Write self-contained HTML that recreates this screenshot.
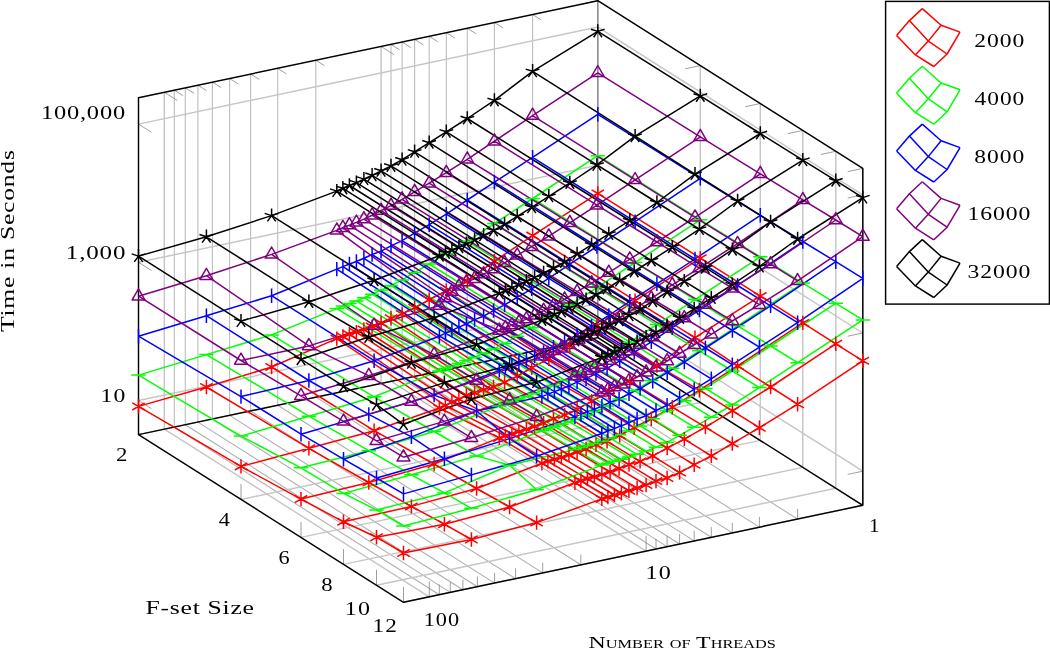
<!DOCTYPE html>
<html><head><meta charset="utf-8"><title>plot</title>
<style>html,body{margin:0;padding:0;background:#fff}svg{display:block}</style></head>
<body>
<svg width="1050" height="649" viewBox="0 0 1050 649">
<rect width="1050" height="649" fill="#fff"/>
<path d="M532.6,351.4 L797.6,519.1 M494.4,359.4 L759.4,527.1 M467.3,365.2 L732.3,532.9 M446.3,369.6 L711.3,537.3 M429.2,373.2 L694.2,540.9 M414.6,376.3 L679.6,544 M402.1,378.9 L667.1,546.6 M391,381.3 L656,549 M315.8,397.1 L580.8,564.8 M277.7,405.2 L542.7,572.9 M250.6,410.9 L515.6,578.6 M229.6,415.4 L494.6,583.1 M212.4,419 L477.4,586.7 M197.9,422.1 L462.9,589.8 M185.3,424.7 L450.3,592.4 M174.3,427 L439.3,594.7" fill="none" stroke="#adadad" stroke-width="1.05"/>
<path d="M532.6,351.4 L532.6,14.5 M494.4,359.4 L494.4,22.5 M467.3,365.2 L467.3,28.3 M446.3,369.6 L446.3,32.7 M429.2,373.2 L429.2,36.3 M414.6,376.3 L414.6,39.4 M402.1,378.9 L402.1,42 M391,381.3 L391,44.4 M315.8,397.1 L315.8,60.2 M277.7,405.2 L277.7,68.3 M250.6,410.9 L250.6,74 M229.6,415.4 L229.6,78.5 M212.4,419 L212.4,82.1 M197.9,422.1 L197.9,85.2 M185.3,424.7 L185.3,87.8 M174.3,427 L174.3,90.1" fill="none" stroke="#c0c0c0" stroke-width="1.15"/>
<path d="M597.8,337.6 L862.8,505.3 M597.8,337.6 L597.8,0.7 M381.1,383.4 L646.1,551.1 M381.1,383.4 L381.1,46.5 M164.3,429.1 L429.3,596.8 M164.3,429.1 L164.3,92.2 M597.8,337.6 L138.5,434.6 M597.8,337.6 L597.8,0.7 M700.3,402.5 L241,499.5 M700.3,402.5 L700.3,65.6 M760.3,440.4 L301,537.4 M760.3,440.4 L760.3,103.5 M802.8,467.4 L343.5,564.4 M802.8,467.4 L802.8,130.5 M835.8,488.2 L376.5,585.2 M835.8,488.2 L835.8,151.3 M862.8,505.3 L403.5,602.3 M862.8,505.3 L862.8,168.4 M138.5,400.5 L597.8,303.5 L862.8,471.2 M138.5,262.3 L597.8,165.3 L862.8,333 M138.5,124.1 L597.8,27.1 L862.8,194.8" fill="none" stroke="#c6c6c6" stroke-width="1.45"/>
<path d="M862.8,505.3 L862.8,489.9 M597.8,0.7 L610.8,8.9 M646.1,551.1 L646.1,535.7 M381.1,46.5 L394.1,54.7 M429.3,596.8 L429.3,581.4 M164.3,92.2 L177.4,100.5 M797.6,519.1 L797.6,508.9 M532.6,14.5 L541.2,19.9 M759.4,527.1 L759.4,516.9 M494.4,22.5 L503,28 M732.3,532.9 L732.3,522.7 M467.3,28.3 L475.9,33.7 M711.3,537.3 L711.3,527.1 M446.3,32.7 L454.9,38.1 M694.2,540.9 L694.2,530.7 M429.2,36.3 L437.8,41.8 M679.6,544 L679.6,533.8 M414.6,39.4 L423.3,44.8 M667.1,546.6 L667.1,536.4 M402.1,42 L410.7,47.5 M656,549 L656,538.8 M391,44.4 L399.6,49.8 M580.8,564.8 L580.8,554.6 M315.8,60.2 L324.5,65.7 M542.7,572.9 L542.7,562.7 M277.7,68.3 L286.3,73.8 M515.6,578.6 L515.6,568.4 M250.6,74 L259.2,79.5 M494.6,583.1 L494.6,572.9 M229.6,78.5 L238.2,83.9 M477.4,586.7 L477.4,576.5 M212.4,82.1 L221,87.5 M462.9,589.8 L462.9,579.6 M197.9,85.2 L206.5,90.6 M450.3,592.4 L450.3,582.2 M185.3,87.8 L194,93.3 M439.3,594.7 L439.3,584.5 M174.3,90.1 L182.9,95.6 M138.5,434.6 L138.5,419.2 M597.8,0.7 L582.7,3.9 M241,499.5 L241,484.1 M700.3,65.6 L685.2,68.8 M301,537.4 L301,522 M760.3,103.5 L745.2,106.7 M343.5,564.4 L343.5,549 M802.8,130.5 L787.8,133.6 M376.5,585.2 L376.5,569.8 M835.8,151.3 L820.8,154.5 M403.5,602.3 L403.5,586.9 M862.8,168.4 L847.7,171.6 M138.5,400.5 L151.5,408.7 M862.8,471.2 L847.7,474.4 M138.5,262.3 L151.5,270.5 M862.8,333 L847.7,336.2 M138.5,124.1 L151.5,132.3 M862.8,194.8 L847.7,198" fill="none" stroke="#7f7f7f" stroke-width="0.75"/>
<path d="M597.8,337.6 L597.8,0.7" fill="none" stroke="#8a8a8a" stroke-width="1.4"/>
<path d="M138.5,434.6 L138.5,97.7 L597.8,0.7 L862.8,168.4 L862.8,505.3 L403.5,602.3 L138.5,434.6 L597.8,337.6 L862.8,505.3" fill="none" stroke="#000" stroke-width="1.45" stroke-linejoin="round"/>
<path d="M597.8,193.4 L532.6,235.6 L494.4,261.2 L467.3,280.8 L446.3,290.7 L429.2,299.8 L414.6,307.8 L402.1,314 L391,318.2 L381.1,323.1 L372.1,326.6 L363.9,329.5 L356.4,332.2 L349.4,334.3 L342.9,336.5 L336.8,338.6 L271.6,367 L206.4,387 L138.5,406.4 M700.3,258.2 L635.1,300.7 L596.9,325.8 L569.8,345.5 L548.8,358.7 L531.7,367.8 L517.2,376.2 L504.6,382.3 L493.5,386.9 L483.6,389.8 L474.6,392.8 L466.4,395.3 L458.9,399.2 L451.9,402.1 L445.4,405.5 L439.4,408 L374.1,430.7 L308.9,448.3 L241,466.4 M760.3,296.1 L695,337.6 L656.9,365.5 L629.8,381.2 L608.8,392.3 L591.6,401.3 L577.1,409.2 L564.6,415.1 L553.5,418.7 L543.6,423.1 L534.6,426.5 L526.4,429.2 L518.9,431.8 L511.9,433.8 L505.4,435.9 L499.3,437.9 L434.1,464 L368.8,482.5 L301,499.1 M802.8,322.9 L737.6,365.9 L699.4,390.2 L672.3,407.2 L651.3,418.7 L634.2,427.7 L619.7,435.6 L607.1,441.3 L596,444.7 L586.1,448.9 L577.1,452.1 L568.9,454.9 L561.4,457.4 L554.4,459.3 L547.9,461.3 L541.9,463.3 L476.6,488.5 L411.4,506.4 L343.5,521.8 M835.8,343.8 L770.6,387 L732.4,410.8 L705.4,427.1 L684.3,439.1 L667.2,448.1 L652.7,455.9 L640.1,461.4 L629,464.6 L619.1,468.6 L610.1,471.8 L601.9,474.4 L594.4,476.9 L587.4,478.8 L580.9,480.8 L574.9,482.7 L509.6,507 L444.4,524.2 L376.5,537.2 M862.8,360.8 L797.6,404.2 L759.4,427.7 L732.3,443.6 L711.3,455.9 L694.2,464.8 L679.6,472.6 L667.1,478 L656,481.1 L646.1,485 L637.1,488.1 L628.9,490.7 L621.4,493.2 L614.4,495 L607.9,497 L601.8,498.9 L536.6,522.6 L471.4,539.5 L403.5,553 M597.8,193.4 L700.3,258.2 L760.3,296.1 L802.8,322.9 L835.8,343.8 L862.8,360.8 M532.6,235.6 L635.1,300.7 L695,337.6 L737.6,365.9 L770.6,387 L797.6,404.2 M494.4,261.2 L596.9,325.8 L656.9,365.5 L699.4,390.2 L732.4,410.8 L759.4,427.7 M467.3,280.8 L569.8,345.5 L629.8,381.2 L672.3,407.2 L705.4,427.1 L732.3,443.6 M446.3,290.7 L548.8,358.7 L608.8,392.3 L651.3,418.7 L684.3,439.1 L711.3,455.9 M429.2,299.8 L531.7,367.8 L591.6,401.3 L634.2,427.7 L667.2,448.1 L694.2,464.8 M414.6,307.8 L517.2,376.2 L577.1,409.2 L619.7,435.6 L652.7,455.9 L679.6,472.6 M402.1,314 L504.6,382.3 L564.6,415.1 L607.1,441.3 L640.1,461.4 L667.1,478 M391,318.2 L493.5,386.9 L553.5,418.7 L596,444.7 L629,464.6 L656,481.1 M381.1,323.1 L483.6,389.8 L543.6,423.1 L586.1,448.9 L619.1,468.6 L646.1,485 M372.1,326.6 L474.6,392.8 L534.6,426.5 L577.1,452.1 L610.1,471.8 L637.1,488.1 M363.9,329.5 L466.4,395.3 L526.4,429.2 L568.9,454.9 L601.9,474.4 L628.9,490.7 M356.4,332.2 L458.9,399.2 L518.9,431.8 L561.4,457.4 L594.4,476.9 L621.4,493.2 M349.4,334.3 L451.9,402.1 L511.9,433.8 L554.4,459.3 L587.4,478.8 L614.4,495 M342.9,336.5 L445.4,405.5 L505.4,435.9 L547.9,461.3 L580.9,480.8 L607.9,497 M336.8,338.6 L439.4,408 L499.3,437.9 L541.9,463.3 L574.9,482.7 L601.8,498.9 M271.6,367 L374.1,430.7 L434.1,464 L476.6,488.5 L509.6,507 L536.6,522.6 M206.4,387 L308.9,448.3 L368.8,482.5 L411.4,506.4 L444.4,524.2 L471.4,539.5 M138.5,406.4 L241,466.4 L301,499.1 L343.5,521.8 L376.5,537.2 L403.5,553" fill="none" stroke="#ff0000" stroke-width="1.5" stroke-linejoin="round"/>
<path d="M597.8,155.7 L532.6,198.5 L494.4,223.5 L467.3,241.3 L446.3,253.7 L429.2,264 L414.6,272.4 L402.1,279.9 L391,285.6 L381.1,290.1 L372.1,294.2 L363.9,297.7 L356.4,300.9 L349.4,303.5 L342.9,306.1 L336.8,308.6 L271.6,334.9 L206.4,354.6 L138.5,375.1 M700.3,219.8 L635.1,262.5 L596.9,287.6 L569.8,305.2 L548.8,317.6 L531.7,327.8 L517.2,336.2 L504.6,343.6 L493.5,349.1 L483.6,353.4 L474.6,357.3 L466.4,360.6 L458.9,363.6 L451.9,366.1 L445.4,368.5 L439.4,370.9 L374.1,396.8 L308.9,416.2 L241,436.1 M760.3,256.8 L695,299.6 L656.9,324.6 L629.8,342.2 L608.8,354.5 L591.6,364.6 L577.1,372.9 L564.6,380.2 L553.5,385.5 L543.6,389.7 L534.6,393.4 L526.4,396.4 L518.9,399.3 L511.9,401.5 L505.4,403.8 L499.3,406.1 L434.1,431.5 L368.8,450.7 L301,467.8 M802.8,283.1 L737.6,325.8 L699.4,350.8 L672.3,368.3 L651.3,380.6 L634.2,390.7 L619.7,398.9 L607.1,406.1 L596,411.3 L586.1,415.3 L577.1,418.8 L568.9,421.7 L561.4,424.3 L554.4,426.5 L547.9,428.6 L541.9,430.7 L476.6,455.9 L411.4,474.8 L343.5,493.4 M835.8,303.3 L770.6,346 L732.4,371 L705.4,388.4 L684.3,400.7 L667.2,410.6 L652.7,418.8 L640.1,425.9 L629,430.9 L619.1,434.8 L610.1,438.1 L601.9,440.9 L594.4,443.4 L587.4,445.4 L580.9,447.4 L574.9,449.4 L509.6,465.2 L444.4,492.9 L376.5,509.9 M862.8,319.9 L797.6,362.7 L759.4,387.6 L732.3,405 L711.3,417.2 L694.2,427.2 L679.6,435.3 L667.1,442.4 L656,447.3 L646.1,451.1 L637.1,454.3 L628.9,456.9 L621.4,459.3 L614.4,461.2 L607.9,463.2 L601.8,465.1 L536.6,489.7 L471.4,508.3 L403.5,526 M597.8,155.7 L700.3,219.8 L760.3,256.8 L802.8,283.1 L835.8,303.3 L862.8,319.9 M532.6,198.5 L635.1,262.5 L695,299.6 L737.6,325.8 L770.6,346 L797.6,362.7 M494.4,223.5 L596.9,287.6 L656.9,324.6 L699.4,350.8 L732.4,371 L759.4,387.6 M467.3,241.3 L569.8,305.2 L629.8,342.2 L672.3,368.3 L705.4,388.4 L732.3,405 M446.3,253.7 L548.8,317.6 L608.8,354.5 L651.3,380.6 L684.3,400.7 L711.3,417.2 M429.2,264 L531.7,327.8 L591.6,364.6 L634.2,390.7 L667.2,410.6 L694.2,427.2 M414.6,272.4 L517.2,336.2 L577.1,372.9 L619.7,398.9 L652.7,418.8 L679.6,435.3 M402.1,279.9 L504.6,343.6 L564.6,380.2 L607.1,406.1 L640.1,425.9 L667.1,442.4 M391,285.6 L493.5,349.1 L553.5,385.5 L596,411.3 L629,430.9 L656,447.3 M381.1,290.1 L483.6,353.4 L543.6,389.7 L586.1,415.3 L619.1,434.8 L646.1,451.1 M372.1,294.2 L474.6,357.3 L534.6,393.4 L577.1,418.8 L610.1,438.1 L637.1,454.3 M363.9,297.7 L466.4,360.6 L526.4,396.4 L568.9,421.7 L601.9,440.9 L628.9,456.9 M356.4,300.9 L458.9,363.6 L518.9,399.3 L561.4,424.3 L594.4,443.4 L621.4,459.3 M349.4,303.5 L451.9,366.1 L511.9,401.5 L554.4,426.5 L587.4,445.4 L614.4,461.2 M342.9,306.1 L445.4,368.5 L505.4,403.8 L547.9,428.6 L580.9,447.4 L607.9,463.2 M336.8,308.6 L439.4,370.9 L499.3,406.1 L541.9,430.7 L574.9,449.4 L601.8,465.1 M271.6,334.9 L374.1,396.8 L434.1,431.5 L476.6,455.9 L509.6,465.2 L536.6,489.7 M206.4,354.6 L308.9,416.2 L368.8,450.7 L411.4,474.8 L444.4,492.9 L471.4,508.3 M138.5,375.1 L241,436.1 L301,467.8 L343.5,493.4 L376.5,509.9 L403.5,526" fill="none" stroke="#00ff00" stroke-width="1.5" stroke-linejoin="round"/>
<path d="M597.8,114.3 L532.6,157.3 L494.4,182.2 L467.3,200 L446.3,214.1 L429.2,224.7 L414.6,233.2 L402.1,240.6 L391,245.9 L381.1,251.1 L372.1,254.5 L363.9,258.3 L356.4,261.5 L349.4,264 L342.9,266.6 L336.8,269.1 L271.6,295.7 L206.4,315.7 L138.5,336.2 M700.3,178.3 L635.1,221.6 L596.9,246.5 L569.8,264.1 L548.8,278.3 L531.7,288.9 L517.2,297.4 L504.6,304.8 L493.5,310.6 L483.6,316.2 L474.6,319.6 L466.4,324 L458.9,327.1 L451.9,330.4 L445.4,333.2 L439.4,336.2 L374.1,360.7 L308.9,380.5 L241,396.6 M760.3,215.3 L695,259 L656.9,283.8 L629.8,301.3 L608.8,315.5 L591.6,326.1 L577.1,334.6 L564.6,342 L553.5,347.2 L543.6,352.4 L534.6,355.8 L526.4,359.6 L518.9,362.7 L511.9,365.3 L505.4,367.9 L499.3,370.4 L434.1,395.1 L368.8,414.4 L301,434.2 M802.8,241.5 L737.6,285.5 L699.4,310.1 L672.3,327.7 L651.3,341.8 L634.2,352.4 L619.7,360.9 L607.1,368.3 L596,373.6 L586.1,378.7 L577.1,382.1 L568.9,385.9 L561.4,389 L554.4,391.6 L547.9,394.1 L541.9,396.6 L476.6,411 L411.4,436.9 L343.5,459.2 M835.8,261.7 L770.6,305.9 L732.4,330.5 L705.4,348 L684.3,362.1 L667.2,372.7 L652.7,381.2 L640.1,388.6 L629,393.8 L619.1,399 L610.1,402.3 L601.9,406.1 L594.4,409.3 L587.4,411.8 L580.9,414.4 L574.9,416.8 L509.6,438.6 L444.4,458.8 L376.5,478 M862.8,278.3 L797.6,322.7 L759.4,347.2 L732.3,364.7 L711.3,378.8 L694.2,389.4 L679.6,397.9 L667.1,405.3 L656,410.5 L646.1,415.7 L637.1,419 L628.9,422.8 L621.4,425.9 L614.4,428.5 L607.9,431 L601.8,433.5 L536.6,456.3 L471.4,474.9 L403.5,493.9 M597.8,114.3 L700.3,178.3 L760.3,215.3 L802.8,241.5 L835.8,261.7 L862.8,278.3 M532.6,157.3 L635.1,221.6 L695,259 L737.6,285.5 L770.6,305.9 L797.6,322.7 M494.4,182.2 L596.9,246.5 L656.9,283.8 L699.4,310.1 L732.4,330.5 L759.4,347.2 M467.3,200 L569.8,264.1 L629.8,301.3 L672.3,327.7 L705.4,348 L732.3,364.7 M446.3,214.1 L548.8,278.3 L608.8,315.5 L651.3,341.8 L684.3,362.1 L711.3,378.8 M429.2,224.7 L531.7,288.9 L591.6,326.1 L634.2,352.4 L667.2,372.7 L694.2,389.4 M414.6,233.2 L517.2,297.4 L577.1,334.6 L619.7,360.9 L652.7,381.2 L679.6,397.9 M402.1,240.6 L504.6,304.8 L564.6,342 L607.1,368.3 L640.1,388.6 L667.1,405.3 M391,245.9 L493.5,310.6 L553.5,347.2 L596,373.6 L629,393.8 L656,410.5 M381.1,251.1 L483.6,316.2 L543.6,352.4 L586.1,378.7 L619.1,399 L646.1,415.7 M372.1,254.5 L474.6,319.6 L534.6,355.8 L577.1,382.1 L610.1,402.3 L637.1,419 M363.9,258.3 L466.4,324 L526.4,359.6 L568.9,385.9 L601.9,406.1 L628.9,422.8 M356.4,261.5 L458.9,327.1 L518.9,362.7 L561.4,389 L594.4,409.3 L621.4,425.9 M349.4,264 L451.9,330.4 L511.9,365.3 L554.4,391.6 L587.4,411.8 L614.4,428.5 M342.9,266.6 L445.4,333.2 L505.4,367.9 L547.9,394.1 L580.9,414.4 L607.9,431 M336.8,269.1 L439.4,336.2 L499.3,370.4 L541.9,396.6 L574.9,416.8 L601.8,433.5 M271.6,295.7 L374.1,360.7 L434.1,395.1 L476.6,411 L509.6,438.6 L536.6,456.3 M206.4,315.7 L308.9,380.5 L368.8,414.4 L411.4,436.9 L444.4,458.8 L471.4,474.9 M138.5,336.2 L241,396.6 L301,434.2 L343.5,459.2 L376.5,478 L403.5,493.9" fill="none" stroke="#0000ff" stroke-width="1.5" stroke-linejoin="round"/>
<path d="M597.8,72.9 L532.6,115.6 L494.4,141.2 L467.3,159.3 L446.3,172.7 L429.2,183.2 L414.6,191.8 L402.1,199.3 L391,205.6 L381.1,210.6 L372.1,215.2 L363.9,219.1 L356.4,222.4 L349.4,225.1 L342.9,227.8 L336.8,230.4 L271.6,254.4 L206.4,275.7 L138.5,296.2 M700.3,136.9 L635.1,179.9 L596.9,205.1 L569.8,222.8 L548.8,236.2 L531.7,246.7 L517.2,255.3 L504.6,262.8 L493.5,269.1 L483.6,274.1 L474.6,278.7 L466.4,282.1 L458.9,286.4 L451.9,291.6 L445.4,298 L439.4,305.5 L374.1,325.5 L308.9,345.9 L241,360.5 M760.3,173.8 L695,217.3 L656.9,242 L629.8,259.2 L608.8,272.6 L591.6,283.2 L577.1,291.7 L564.6,299.3 L553.5,305.6 L543.6,310.6 L534.6,315.2 L526.4,319.1 L518.9,322.4 L511.9,325.1 L505.4,327.8 L499.3,330.5 L434.1,354.6 L368.8,375.8 L301,395.8 M802.8,199.9 L737.6,243.7 L699.4,268.1 L672.3,284.9 L651.3,298.4 L634.2,308.9 L619.7,317.5 L607.1,325 L596,331.3 L586.1,336.3 L577.1,340.9 L568.9,344.8 L561.4,348.2 L554.4,350.9 L547.9,353.6 L541.9,356.2 L476.6,380.5 L411.4,401.6 L343.5,421.4 M835.8,220 L770.6,264.1 L732.4,288.2 L705.4,304.6 L684.3,318 L667.2,328.6 L652.7,337.1 L640.1,344.7 L629,351 L619.1,356 L610.1,360.6 L601.9,364.6 L594.4,367.9 L587.4,370.6 L580.9,373.3 L574.9,375.9 L509.6,400.3 L444.4,421.4 L376.5,440.9 M862.8,236.6 L797.6,280.9 L759.4,304.7 L732.3,321 L711.3,334.4 L694.2,344.9 L679.6,353.5 L667.1,361 L656,367.3 L646.1,372.4 L637.1,377 L628.9,380.9 L621.4,384.2 L614.4,386.9 L607.9,389.7 L601.8,392.3 L536.6,416.7 L471.4,437.8 L403.5,457.2 M597.8,72.9 L700.3,136.9 L760.3,173.8 L802.8,199.9 L835.8,220 L862.8,236.6 M532.6,115.6 L635.1,179.9 L695,217.3 L737.6,243.7 L770.6,264.1 L797.6,280.9 M494.4,141.2 L596.9,205.1 L656.9,242 L699.4,268.1 L732.4,288.2 L759.4,304.7 M467.3,159.3 L569.8,222.8 L629.8,259.2 L672.3,284.9 L705.4,304.6 L732.3,321 M446.3,172.7 L548.8,236.2 L608.8,272.6 L651.3,298.4 L684.3,318 L711.3,334.4 M429.2,183.2 L531.7,246.7 L591.6,283.2 L634.2,308.9 L667.2,328.6 L694.2,344.9 M414.6,191.8 L517.2,255.3 L577.1,291.7 L619.7,317.5 L652.7,337.1 L679.6,353.5 M402.1,199.3 L504.6,262.8 L564.6,299.3 L607.1,325 L640.1,344.7 L667.1,361 M391,205.6 L493.5,269.1 L553.5,305.6 L596,331.3 L629,351 L656,367.3 M381.1,210.6 L483.6,274.1 L543.6,310.6 L586.1,336.3 L619.1,356 L646.1,372.4 M372.1,215.2 L474.6,278.7 L534.6,315.2 L577.1,340.9 L610.1,360.6 L637.1,377 M363.9,219.1 L466.4,282.1 L526.4,319.1 L568.9,344.8 L601.9,364.6 L628.9,380.9 M356.4,222.4 L458.9,286.4 L518.9,322.4 L561.4,348.2 L594.4,367.9 L621.4,384.2 M349.4,225.1 L451.9,291.6 L511.9,325.1 L554.4,350.9 L587.4,370.6 L614.4,386.9 M342.9,227.8 L445.4,298 L505.4,327.8 L547.9,353.6 L580.9,373.3 L607.9,389.7 M336.8,230.4 L439.4,305.5 L499.3,330.5 L541.9,356.2 L574.9,375.9 L601.8,392.3 M271.6,254.4 L374.1,325.5 L434.1,354.6 L476.6,380.5 L509.6,400.3 L536.6,416.7 M206.4,275.7 L308.9,345.9 L368.8,375.8 L411.4,401.6 L444.4,421.4 L471.4,437.8 M138.5,296.2 L241,360.5 L301,395.8 L343.5,421.4 L376.5,440.9 L403.5,457.2" fill="none" stroke="#800080" stroke-width="1.5" stroke-linejoin="round"/>
<path d="M597.8,31.4 L532.6,71.3 L494.4,100.4 L467.3,118.5 L446.3,131.8 L429.2,142.7 L414.6,151.8 L402.1,159.7 L391,165.9 L381.1,170.8 L372.1,175.3 L363.9,179.1 L356.4,182.6 L349.4,185.5 L342.9,188.3 L336.8,191.1 L271.6,215.6 L206.4,236.8 L138.5,256.1 M700.3,95.9 L635.1,136.2 L596.9,164.9 L569.8,183 L548.8,196.3 L531.7,207.3 L517.2,216.3 L504.6,224.3 L493.5,230.4 L483.6,235.3 L474.6,239.8 L466.4,243.7 L458.9,247.2 L451.9,250 L445.4,252.9 L439.4,255.7 L374.1,280.2 L308.9,301.8 L241,321.1 M760.3,133.5 L695,174.1 L656.9,202.5 L629.8,220.5 L608.8,233.9 L591.6,244.8 L577.1,253.9 L564.6,261.9 L553.5,268 L543.6,272.9 L534.6,277.4 L526.4,281.3 L518.9,284.8 L511.9,287.6 L505.4,290.5 L499.3,293.3 L434.1,317.8 L368.8,337 L301,359.2 M802.8,160.1 L737.6,201 L699.4,229.1 L672.3,247.2 L651.3,260.5 L634.2,271.5 L619.7,280.5 L607.1,288.5 L596,294.7 L586.1,299.6 L577.1,304.1 L568.9,307.9 L561.4,311.4 L554.4,314.3 L547.9,317.2 L541.9,320 L476.6,344.5 L411.4,362.8 L343.5,386.2 M835.8,180.7 L770.6,221.9 L732.4,249.7 L705.4,267.7 L684.3,281.1 L667.2,292 L652.7,301.1 L640.1,309.1 L629,315.3 L619.1,320.2 L610.1,324.7 L601.9,328.5 L594.4,332 L587.4,334.9 L580.9,337.8 L574.9,340.6 L509.6,365.2 L444.4,382.6 L376.5,404.6 M862.8,197.6 L797.6,239 L759.4,266.5 L732.3,284.6 L711.3,298 L694.2,308.9 L679.6,318 L667.1,326 L656,332.2 L646.1,337.1 L637.1,341.6 L628.9,345.4 L621.4,348.9 L614.4,351.8 L607.9,354.7 L601.8,357.5 L536.6,382.1 L471.4,399 L403.5,424.3 M597.8,31.4 L700.3,95.9 L760.3,133.5 L802.8,160.1 L835.8,180.7 L862.8,197.6 M532.6,71.3 L635.1,136.2 L695,174.1 L737.6,201 L770.6,221.9 L797.6,239 M494.4,100.4 L596.9,164.9 L656.9,202.5 L699.4,229.1 L732.4,249.7 L759.4,266.5 M467.3,118.5 L569.8,183 L629.8,220.5 L672.3,247.2 L705.4,267.7 L732.3,284.6 M446.3,131.8 L548.8,196.3 L608.8,233.9 L651.3,260.5 L684.3,281.1 L711.3,298 M429.2,142.7 L531.7,207.3 L591.6,244.8 L634.2,271.5 L667.2,292 L694.2,308.9 M414.6,151.8 L517.2,216.3 L577.1,253.9 L619.7,280.5 L652.7,301.1 L679.6,318 M402.1,159.7 L504.6,224.3 L564.6,261.9 L607.1,288.5 L640.1,309.1 L667.1,326 M391,165.9 L493.5,230.4 L553.5,268 L596,294.7 L629,315.3 L656,332.2 M381.1,170.8 L483.6,235.3 L543.6,272.9 L586.1,299.6 L619.1,320.2 L646.1,337.1 M372.1,175.3 L474.6,239.8 L534.6,277.4 L577.1,304.1 L610.1,324.7 L637.1,341.6 M363.9,179.1 L466.4,243.7 L526.4,281.3 L568.9,307.9 L601.9,328.5 L628.9,345.4 M356.4,182.6 L458.9,247.2 L518.9,284.8 L561.4,311.4 L594.4,332 L621.4,348.9 M349.4,185.5 L451.9,250 L511.9,287.6 L554.4,314.3 L587.4,334.9 L614.4,351.8 M342.9,188.3 L445.4,252.9 L505.4,290.5 L547.9,317.2 L580.9,337.8 L607.9,354.7 M336.8,191.1 L439.4,255.7 L499.3,293.3 L541.9,320 L574.9,340.6 L601.8,357.5 M271.6,215.6 L374.1,280.2 L434.1,317.8 L476.6,344.5 L509.6,365.2 L536.6,382.1 M206.4,236.8 L308.9,301.8 L368.8,337 L411.4,362.8 L444.4,382.6 L471.4,399 M138.5,256.1 L241,321.1 L301,359.2 L343.5,386.2 L376.5,404.6 L403.5,424.3" fill="none" stroke="#000000" stroke-width="1.5" stroke-linejoin="round"/>
<path d="M597.8,186.2 L597.8,200.6 M591.6,189.8 L604,197 M604,189.8 L591.6,197 M532.6,228.4 L532.6,242.8 M526.3,232 L538.8,239.2 M538.8,232 L526.3,239.2 M494.4,254 L494.4,268.4 M488.2,257.6 L500.6,264.8 M500.6,257.6 L488.2,264.8 M467.3,273.6 L467.3,288 M461.1,277.2 L473.6,284.4 M473.6,277.2 L461.1,284.4 M446.3,283.5 L446.3,297.9 M440.1,287.1 L452.5,294.3 M452.5,287.1 L440.1,294.3 M429.2,292.6 L429.2,307 M422.9,296.2 L435.4,303.4 M435.4,296.2 L422.9,303.4 M414.6,300.6 L414.6,315 M408.4,304.2 L420.9,311.4 M420.9,304.2 L408.4,311.4 M402.1,306.8 L402.1,321.2 M395.8,310.4 L408.3,317.6 M408.3,310.4 L395.8,317.6 M391,311 L391,325.4 M384.8,314.6 L397.2,321.8 M397.2,314.6 L384.8,321.8 M381.1,315.9 L381.1,330.3 M374.8,319.5 L387.3,326.7 M387.3,319.5 L374.8,326.7 M372.1,319.4 L372.1,333.8 M365.9,323 L378.3,330.2 M378.3,323 L365.9,330.2 M363.9,322.3 L363.9,336.7 M357.7,325.9 L370.1,333.1 M370.1,325.9 L357.7,333.1 M356.4,325 L356.4,339.4 M350.1,328.6 L362.6,335.8 M362.6,328.6 L350.1,335.8 M349.4,327.1 L349.4,341.5 M343.2,330.7 L355.6,337.9 M355.6,330.7 L343.2,337.9 M342.9,329.3 L342.9,343.7 M336.7,332.9 L349.1,340.1 M349.1,332.9 L336.7,340.1 M336.8,331.4 L336.8,345.8 M330.6,335 L343.1,342.2 M343.1,335 L330.6,342.2 M271.6,359.8 L271.6,374.2 M265.4,363.4 L277.8,370.6 M277.8,363.4 L265.4,370.6 M206.4,379.8 L206.4,394.2 M200.1,383.4 L212.6,390.6 M212.6,383.4 L200.1,390.6 M138.5,399.2 L138.5,413.6 M132.3,402.8 L144.7,410 M144.7,402.8 L132.3,410 M700.3,251 L700.3,265.4 M694.1,254.6 L706.6,261.8 M706.6,254.6 L694.1,261.8 M635.1,293.5 L635.1,307.9 M628.8,297.1 L641.3,304.3 M641.3,297.1 L628.8,304.3 M596.9,318.6 L596.9,333 M590.7,322.2 L603.1,329.4 M603.1,322.2 L590.7,329.4 M569.8,338.3 L569.8,352.7 M563.6,341.9 L576.1,349.1 M576.1,341.9 L563.6,349.1 M548.8,351.5 L548.8,365.9 M542.6,355.1 L555.1,362.3 M555.1,355.1 L542.6,362.3 M531.7,360.6 L531.7,375 M525.4,364.2 L537.9,371.4 M537.9,364.2 L525.4,371.4 M517.2,369 L517.2,383.4 M510.9,372.6 L523.4,379.8 M523.4,372.6 L510.9,379.8 M504.6,375.1 L504.6,389.5 M498.4,378.7 L510.8,385.9 M510.8,378.7 L498.4,385.9 M493.5,379.7 L493.5,394.1 M487.3,383.3 L499.7,390.5 M499.7,383.3 L487.3,390.5 M483.6,382.6 L483.6,397 M477.4,386.2 L489.8,393.4 M489.8,386.2 L477.4,393.4 M474.6,385.6 L474.6,400 M468.4,389.2 L480.9,396.4 M480.9,389.2 L468.4,396.4 M466.4,388.1 L466.4,402.5 M460.2,391.7 L472.7,398.9 M472.7,391.7 L460.2,398.9 M458.9,392 L458.9,406.4 M452.7,395.6 L465.1,402.8 M465.1,395.6 L452.7,402.8 M451.9,394.9 L451.9,409.3 M445.7,398.5 L458.2,405.7 M458.2,398.5 L445.7,405.7 M445.4,398.3 L445.4,412.7 M439.2,401.9 L451.7,409.1 M451.7,401.9 L439.2,409.1 M439.4,400.8 L439.4,415.2 M433.1,404.4 L445.6,411.6 M445.6,404.4 L433.1,411.6 M374.1,423.5 L374.1,437.9 M367.9,427.1 L380.3,434.3 M380.3,427.1 L367.9,434.3 M308.9,441.1 L308.9,455.5 M302.6,444.7 L315.1,451.9 M315.1,444.7 L302.6,451.9 M241,459.2 L241,473.6 M234.8,462.8 L247.3,470 M247.3,462.8 L234.8,470 M760.3,288.9 L760.3,303.3 M754,292.5 L766.5,299.7 M766.5,292.5 L754,299.7 M695,330.4 L695,344.8 M688.8,334 L701.3,341.2 M701.3,334 L688.8,341.2 M656.9,358.3 L656.9,372.7 M650.6,361.9 L663.1,369.1 M663.1,361.9 L650.6,369.1 M629.8,374 L629.8,388.4 M623.6,377.6 L636,384.8 M636,377.6 L623.6,384.8 M608.8,385.1 L608.8,399.5 M602.6,388.7 L615,395.9 M615,388.7 L602.6,395.9 M591.6,394.1 L591.6,408.5 M585.4,397.7 L597.9,404.9 M597.9,397.7 L585.4,404.9 M577.1,402 L577.1,416.4 M570.9,405.6 L583.4,412.8 M583.4,405.6 L570.9,412.8 M564.6,407.9 L564.6,422.3 M558.3,411.5 L570.8,418.7 M570.8,411.5 L558.3,418.7 M553.5,411.5 L553.5,425.9 M547.2,415.1 L559.7,422.3 M559.7,415.1 L547.2,422.3 M543.6,415.9 L543.6,430.3 M537.3,419.5 L549.8,426.7 M549.8,419.5 L537.3,426.7 M534.6,419.3 L534.6,433.7 M528.4,422.9 L540.8,430.1 M540.8,422.9 L528.4,430.1 M526.4,422 L526.4,436.4 M520.2,425.6 L532.6,432.8 M532.6,425.6 L520.2,432.8 M518.9,424.6 L518.9,439 M512.6,428.2 L525.1,435.4 M525.1,428.2 L512.6,435.4 M511.9,426.6 L511.9,441 M505.7,430.2 L518.1,437.4 M518.1,430.2 L505.7,437.4 M505.4,428.7 L505.4,443.1 M499.2,432.3 L511.6,439.5 M511.6,432.3 L499.2,439.5 M499.3,430.7 L499.3,445.1 M493.1,434.3 L505.6,441.5 M505.6,434.3 L493.1,441.5 M434.1,456.8 L434.1,471.2 M427.8,460.4 L440.3,467.6 M440.3,460.4 L427.8,467.6 M368.8,475.3 L368.8,489.7 M362.6,478.9 L375.1,486.1 M375.1,478.9 L362.6,486.1 M301,491.9 L301,506.3 M294.7,495.5 L307.2,502.7 M307.2,495.5 L294.7,502.7 M802.8,315.7 L802.8,330.1 M796.6,319.3 L809.1,326.5 M809.1,319.3 L796.6,326.5 M737.6,358.7 L737.6,373.1 M731.4,362.3 L743.8,369.5 M743.8,362.3 L731.4,369.5 M699.4,383 L699.4,397.4 M693.2,386.6 L705.7,393.8 M705.7,386.6 L693.2,393.8 M672.3,400 L672.3,414.4 M666.1,403.6 L678.6,410.8 M678.6,403.6 L666.1,410.8 M651.3,411.5 L651.3,425.9 M645.1,415.1 L657.6,422.3 M657.6,415.1 L645.1,422.3 M634.2,420.5 L634.2,434.9 M627.9,424.1 L640.4,431.3 M640.4,424.1 L627.9,431.3 M619.7,428.4 L619.7,442.8 M613.4,432 L625.9,439.2 M625.9,432 L613.4,439.2 M607.1,434.1 L607.1,448.5 M600.9,437.7 L613.3,444.9 M613.3,437.7 L600.9,444.9 M596,437.5 L596,451.9 M589.8,441.1 L602.3,448.3 M602.3,441.1 L589.8,448.3 M586.1,441.7 L586.1,456.1 M579.9,445.3 L592.3,452.5 M592.3,445.3 L579.9,452.5 M577.1,444.9 L577.1,459.3 M570.9,448.5 L583.4,455.7 M583.4,448.5 L570.9,455.7 M568.9,447.7 L568.9,462.1 M562.7,451.3 L575.2,458.5 M575.2,451.3 L562.7,458.5 M561.4,450.2 L561.4,464.6 M555.2,453.8 L567.6,461 M567.6,453.8 L555.2,461 M554.4,452.1 L554.4,466.5 M548.2,455.7 L560.7,462.9 M560.7,455.7 L548.2,462.9 M547.9,454.1 L547.9,468.5 M541.7,457.7 L554.2,464.9 M554.2,457.7 L541.7,464.9 M541.9,456.1 L541.9,470.5 M535.6,459.7 L548.1,466.9 M548.1,459.7 L535.6,466.9 M476.6,481.3 L476.6,495.7 M470.4,484.9 L482.9,492.1 M482.9,484.9 L470.4,492.1 M411.4,499.2 L411.4,513.6 M405.1,502.8 L417.6,510 M417.6,502.8 L405.1,510 M343.5,514.6 L343.5,529 M337.3,518.2 L349.8,525.4 M349.8,518.2 L337.3,525.4 M835.8,336.6 L835.8,351 M829.6,340.2 L842.1,347.4 M842.1,340.2 L829.6,347.4 M770.6,379.8 L770.6,394.2 M764.4,383.4 L776.8,390.6 M776.8,383.4 L764.4,390.6 M732.4,403.6 L732.4,418 M726.2,407.2 L738.7,414.4 M738.7,407.2 L726.2,414.4 M705.4,419.9 L705.4,434.3 M699.1,423.5 L711.6,430.7 M711.6,423.5 L699.1,430.7 M684.3,431.9 L684.3,446.3 M678.1,435.5 L690.6,442.7 M690.6,435.5 L678.1,442.7 M667.2,440.9 L667.2,455.3 M661,444.5 L673.4,451.7 M673.4,444.5 L661,451.7 M652.7,448.7 L652.7,463.1 M646.4,452.3 L658.9,459.5 M658.9,452.3 L646.4,459.5 M640.1,454.2 L640.1,468.6 M633.9,457.8 L646.3,465 M646.3,457.8 L633.9,465 M629,457.4 L629,471.8 M622.8,461 L635.3,468.2 M635.3,461 L622.8,468.2 M619.1,461.4 L619.1,475.8 M612.9,465 L625.3,472.2 M625.3,465 L612.9,472.2 M610.1,464.6 L610.1,479 M603.9,468.2 L616.4,475.4 M616.4,468.2 L603.9,475.4 M601.9,467.2 L601.9,481.6 M595.7,470.8 L608.2,478 M608.2,470.8 L595.7,478 M594.4,469.7 L594.4,484.1 M588.2,473.3 L600.6,480.5 M600.6,473.3 L588.2,480.5 M587.4,471.6 L587.4,486 M581.2,475.2 L593.7,482.4 M593.7,475.2 L581.2,482.4 M580.9,473.6 L580.9,488 M574.7,477.2 L587.2,484.4 M587.2,477.2 L574.7,484.4 M574.9,475.5 L574.9,489.9 M568.6,479.1 L581.1,486.3 M581.1,479.1 L568.6,486.3 M509.6,499.8 L509.6,514.2 M503.4,503.4 L515.9,510.6 M515.9,503.4 L503.4,510.6 M444.4,517 L444.4,531.4 M438.2,520.6 L450.6,527.8 M450.6,520.6 L438.2,527.8 M376.5,530 L376.5,544.4 M370.3,533.6 L382.8,540.8 M382.8,533.6 L370.3,540.8 M862.8,353.6 L862.8,368 M856.6,357.2 L869,364.4 M869,357.2 L856.6,364.4 M797.6,397 L797.6,411.4 M791.3,400.6 L803.8,407.8 M803.8,400.6 L791.3,407.8 M759.4,420.5 L759.4,434.9 M753.2,424.1 L765.6,431.3 M765.6,424.1 L753.2,431.3 M732.3,436.4 L732.3,450.8 M726.1,440 L738.6,447.2 M738.6,440 L726.1,447.2 M711.3,448.7 L711.3,463.1 M705.1,452.3 L717.5,459.5 M717.5,452.3 L705.1,459.5 M694.2,457.6 L694.2,472 M687.9,461.2 L700.4,468.4 M700.4,461.2 L687.9,468.4 M679.6,465.4 L679.6,479.8 M673.4,469 L685.9,476.2 M685.9,469 L673.4,476.2 M667.1,470.8 L667.1,485.2 M660.8,474.4 L673.3,481.6 M673.3,474.4 L660.8,481.6 M656,473.9 L656,488.3 M649.8,477.5 L662.2,484.7 M662.2,477.5 L649.8,484.7 M646.1,477.8 L646.1,492.2 M639.8,481.4 L652.3,488.6 M652.3,481.4 L639.8,488.6 M637.1,480.9 L637.1,495.3 M630.9,484.5 L643.3,491.7 M643.3,484.5 L630.9,491.7 M628.9,483.5 L628.9,497.9 M622.7,487.1 L635.1,494.3 M635.1,487.1 L622.7,494.3 M621.4,486 L621.4,500.4 M615.1,489.6 L627.6,496.8 M627.6,489.6 L615.1,496.8 M614.4,487.8 L614.4,502.2 M608.2,491.4 L620.6,498.6 M620.6,491.4 L608.2,498.6 M607.9,489.8 L607.9,504.2 M601.7,493.4 L614.1,500.6 M614.1,493.4 L601.7,500.6 M601.8,491.7 L601.8,506.1 M595.6,495.3 L608.1,502.5 M608.1,495.3 L595.6,502.5 M536.6,515.4 L536.6,529.8 M530.4,519 L542.8,526.2 M542.8,519 L530.4,526.2 M471.4,532.3 L471.4,546.7 M465.1,535.9 L477.6,543.1 M477.6,535.9 L465.1,543.1 M403.5,545.8 L403.5,560.2 M397.3,549.4 L409.7,556.6 M409.7,549.4 L397.3,556.6" fill="none" stroke="#ff0000" stroke-width="1.5" stroke-linejoin="round"/>
<path d="M590.6,155.7 L605,155.7 M525.4,198.5 L539.8,198.5 M487.2,223.5 L501.6,223.5 M460.1,241.3 L474.5,241.3 M439.1,253.7 L453.5,253.7 M422,264 L436.4,264 M407.4,272.4 L421.8,272.4 M394.9,279.9 L409.3,279.9 M383.8,285.6 L398.2,285.6 M373.9,290.1 L388.3,290.1 M364.9,294.2 L379.3,294.2 M356.7,297.7 L371.1,297.7 M349.2,300.9 L363.6,300.9 M342.2,303.5 L356.6,303.5 M335.7,306.1 L350.1,306.1 M329.6,308.6 L344,308.6 M264.4,334.9 L278.8,334.9 M199.2,354.6 L213.6,354.6 M131.3,375.1 L145.7,375.1 M693.1,219.8 L707.5,219.8 M627.9,262.5 L642.3,262.5 M589.7,287.6 L604.1,287.6 M562.6,305.2 L577,305.2 M541.6,317.6 L556,317.6 M524.5,327.8 L538.9,327.8 M510,336.2 L524.4,336.2 M497.4,343.6 L511.8,343.6 M486.3,349.1 L500.7,349.1 M476.4,353.4 L490.8,353.4 M467.4,357.3 L481.8,357.3 M459.2,360.6 L473.6,360.6 M451.7,363.6 L466.1,363.6 M444.7,366.1 L459.1,366.1 M438.2,368.5 L452.6,368.5 M432.2,370.9 L446.6,370.9 M366.9,396.8 L381.3,396.8 M301.7,416.2 L316.1,416.2 M233.8,436.1 L248.2,436.1 M753.1,256.8 L767.5,256.8 M687.8,299.6 L702.2,299.6 M649.7,324.6 L664.1,324.6 M622.6,342.2 L637,342.2 M601.6,354.5 L616,354.5 M584.4,364.6 L598.8,364.6 M569.9,372.9 L584.3,372.9 M557.4,380.2 L571.8,380.2 M546.3,385.5 L560.7,385.5 M536.4,389.7 L550.8,389.7 M527.4,393.4 L541.8,393.4 M519.2,396.4 L533.6,396.4 M511.7,399.3 L526.1,399.3 M504.7,401.5 L519.1,401.5 M498.2,403.8 L512.6,403.8 M492.1,406.1 L506.5,406.1 M426.9,431.5 L441.3,431.5 M361.6,450.7 L376,450.7 M293.8,467.8 L308.2,467.8 M795.6,283.1 L810,283.1 M730.4,325.8 L744.8,325.8 M692.2,350.8 L706.6,350.8 M665.1,368.3 L679.5,368.3 M644.1,380.6 L658.5,380.6 M627,390.7 L641.4,390.7 M612.5,398.9 L626.9,398.9 M599.9,406.1 L614.3,406.1 M588.8,411.3 L603.2,411.3 M578.9,415.3 L593.3,415.3 M569.9,418.8 L584.3,418.8 M561.7,421.7 L576.1,421.7 M554.2,424.3 L568.6,424.3 M547.2,426.5 L561.6,426.5 M540.7,428.6 L555.1,428.6 M534.7,430.7 L549.1,430.7 M469.4,455.9 L483.8,455.9 M404.2,474.8 L418.6,474.8 M336.3,493.4 L350.7,493.4 M828.6,303.3 L843,303.3 M763.4,346 L777.8,346 M725.2,371 L739.6,371 M698.2,388.4 L712.6,388.4 M677.1,400.7 L691.5,400.7 M660,410.6 L674.4,410.6 M645.5,418.8 L659.9,418.8 M632.9,425.9 L647.3,425.9 M621.8,430.9 L636.2,430.9 M611.9,434.8 L626.3,434.8 M602.9,438.1 L617.3,438.1 M594.7,440.9 L609.1,440.9 M587.2,443.4 L601.6,443.4 M580.2,445.4 L594.6,445.4 M573.7,447.4 L588.1,447.4 M567.7,449.4 L582.1,449.4 M502.4,465.2 L516.8,465.2 M437.2,492.9 L451.6,492.9 M369.3,509.9 L383.7,509.9 M855.6,319.9 L870,319.9 M790.4,362.7 L804.8,362.7 M752.2,387.6 L766.6,387.6 M725.1,405 L739.5,405 M704.1,417.2 L718.5,417.2 M687,427.2 L701.4,427.2 M672.4,435.3 L686.8,435.3 M659.9,442.4 L674.3,442.4 M648.8,447.3 L663.2,447.3 M638.9,451.1 L653.3,451.1 M629.9,454.3 L644.3,454.3 M621.7,456.9 L636.1,456.9 M614.2,459.3 L628.6,459.3 M607.2,461.2 L621.6,461.2 M600.7,463.2 L615.1,463.2 M594.6,465.1 L609,465.1 M529.4,489.7 L543.8,489.7 M464.2,508.3 L478.6,508.3 M396.3,526 L410.7,526" fill="none" stroke="#00ff00" stroke-width="1.5" stroke-linejoin="round"/>
<path d="M597.8,107.1 L597.8,121.5 M532.6,150.1 L532.6,164.5 M494.4,175 L494.4,189.4 M467.3,192.8 L467.3,207.2 M446.3,206.9 L446.3,221.3 M429.2,217.5 L429.2,231.9 M414.6,226 L414.6,240.4 M402.1,233.4 L402.1,247.8 M391,238.7 L391,253.1 M381.1,243.9 L381.1,258.3 M372.1,247.3 L372.1,261.7 M363.9,251.1 L363.9,265.5 M356.4,254.3 L356.4,268.7 M349.4,256.8 L349.4,271.2 M342.9,259.4 L342.9,273.8 M336.8,261.9 L336.8,276.3 M271.6,288.5 L271.6,302.9 M206.4,308.5 L206.4,322.9 M138.5,329 L138.5,343.4 M700.3,171.1 L700.3,185.5 M635.1,214.4 L635.1,228.8 M596.9,239.3 L596.9,253.7 M569.8,256.9 L569.8,271.3 M548.8,271.1 L548.8,285.5 M531.7,281.7 L531.7,296.1 M517.2,290.2 L517.2,304.6 M504.6,297.6 L504.6,312 M493.5,303.4 L493.5,317.8 M483.6,309 L483.6,323.4 M474.6,312.4 L474.6,326.8 M466.4,316.8 L466.4,331.2 M458.9,319.9 L458.9,334.3 M451.9,323.2 L451.9,337.6 M445.4,326 L445.4,340.4 M439.4,329 L439.4,343.4 M374.1,353.5 L374.1,367.9 M308.9,373.3 L308.9,387.7 M241,389.4 L241,403.8 M760.3,208.1 L760.3,222.5 M695,251.8 L695,266.2 M656.9,276.6 L656.9,291 M629.8,294.1 L629.8,308.5 M608.8,308.3 L608.8,322.7 M591.6,318.9 L591.6,333.3 M577.1,327.4 L577.1,341.8 M564.6,334.8 L564.6,349.2 M553.5,340 L553.5,354.4 M543.6,345.2 L543.6,359.6 M534.6,348.6 L534.6,363 M526.4,352.4 L526.4,366.8 M518.9,355.5 L518.9,369.9 M511.9,358.1 L511.9,372.5 M505.4,360.7 L505.4,375.1 M499.3,363.2 L499.3,377.6 M434.1,387.9 L434.1,402.3 M368.8,407.2 L368.8,421.6 M301,427 L301,441.4 M802.8,234.3 L802.8,248.7 M737.6,278.3 L737.6,292.7 M699.4,302.9 L699.4,317.3 M672.3,320.5 L672.3,334.9 M651.3,334.6 L651.3,349 M634.2,345.2 L634.2,359.6 M619.7,353.7 L619.7,368.1 M607.1,361.1 L607.1,375.5 M596,366.4 L596,380.8 M586.1,371.5 L586.1,385.9 M577.1,374.9 L577.1,389.3 M568.9,378.7 L568.9,393.1 M561.4,381.8 L561.4,396.2 M554.4,384.4 L554.4,398.8 M547.9,386.9 L547.9,401.3 M541.9,389.4 L541.9,403.8 M476.6,403.8 L476.6,418.2 M411.4,429.7 L411.4,444.1 M343.5,452 L343.5,466.4 M835.8,254.5 L835.8,268.9 M770.6,298.7 L770.6,313.1 M732.4,323.3 L732.4,337.7 M705.4,340.8 L705.4,355.2 M684.3,354.9 L684.3,369.3 M667.2,365.5 L667.2,379.9 M652.7,374 L652.7,388.4 M640.1,381.4 L640.1,395.8 M629,386.6 L629,401 M619.1,391.8 L619.1,406.2 M610.1,395.1 L610.1,409.5 M601.9,398.9 L601.9,413.3 M594.4,402.1 L594.4,416.5 M587.4,404.6 L587.4,419 M580.9,407.2 L580.9,421.6 M574.9,409.6 L574.9,424 M509.6,431.4 L509.6,445.8 M444.4,451.6 L444.4,466 M376.5,470.8 L376.5,485.2 M862.8,271.1 L862.8,285.5 M797.6,315.5 L797.6,329.9 M759.4,340 L759.4,354.4 M732.3,357.5 L732.3,371.9 M711.3,371.6 L711.3,386 M694.2,382.2 L694.2,396.6 M679.6,390.7 L679.6,405.1 M667.1,398.1 L667.1,412.5 M656,403.3 L656,417.7 M646.1,408.5 L646.1,422.9 M637.1,411.8 L637.1,426.2 M628.9,415.6 L628.9,430 M621.4,418.7 L621.4,433.1 M614.4,421.3 L614.4,435.7 M607.9,423.8 L607.9,438.2 M601.8,426.3 L601.8,440.7 M536.6,449.1 L536.6,463.5 M471.4,467.7 L471.4,482.1 M403.5,486.7 L403.5,501.1" fill="none" stroke="#0000ff" stroke-width="1.5" stroke-linejoin="round"/>
<path d="M597.8,65.5 L591.4,76.6 L604.2,76.6 Z M532.6,108.2 L526.1,119.3 L539,119.3 Z M494.4,133.8 L488,144.9 L500.8,144.9 Z M467.3,151.8 L460.9,163 L473.7,163 Z M446.3,165.3 L439.9,176.4 L452.7,176.4 Z M429.2,175.8 L422.7,186.9 L435.6,186.9 Z M414.6,184.4 L408.2,195.5 L421.1,195.5 Z M402.1,191.9 L395.7,203 L408.5,203 Z M391,198.2 L384.6,209.3 L397.4,209.3 Z M381.1,203.2 L374.7,214.3 L387.5,214.3 Z M372.1,207.8 L365.7,218.9 L378.5,218.9 Z M363.9,211.7 L357.5,222.8 L370.3,222.8 Z M356.4,215 L350,226.1 L362.8,226.1 Z M349.4,217.7 L343,228.8 L355.8,228.8 Z M342.9,220.4 L336.5,231.5 L349.3,231.5 Z M336.8,223 L330.4,234.1 L343.3,234.1 Z M271.6,247 L265.2,258.1 L278,258.1 Z M206.4,268.3 L199.9,279.4 L212.8,279.4 Z M138.5,288.8 L132.1,299.9 L144.9,299.9 Z M700.3,129.4 L693.9,140.6 L706.7,140.6 Z M635.1,172.5 L628.7,183.6 L641.5,183.6 Z M596.9,197.7 L590.5,208.9 L603.3,208.9 Z M569.8,215.3 L563.4,226.5 L576.3,226.5 Z M548.8,228.8 L542.4,239.9 L555.3,239.9 Z M531.7,239.3 L525.2,250.4 L538.1,250.4 Z M517.2,247.9 L510.7,259 L523.6,259 Z M504.6,255.4 L498.2,266.5 L511,266.5 Z M493.5,261.7 L487.1,272.8 L499.9,272.8 Z M483.6,266.7 L477.2,277.8 L490,277.8 Z M474.6,271.3 L468.2,282.4 L481,282.4 Z M466.4,274.7 L460,285.8 L472.9,285.8 Z M458.9,278.9 L452.5,290.1 L465.3,290.1 Z M451.9,284.2 L445.5,295.3 L458.3,295.3 Z M445.4,290.6 L439,301.7 L451.8,301.7 Z M439.4,298.1 L432.9,309.2 L445.8,309.2 Z M374.1,318.1 L367.7,329.2 L380.5,329.2 Z M308.9,338.5 L302.4,349.7 L315.3,349.7 Z M241,353.1 L234.6,364.2 L247.4,364.2 Z M760.3,166.4 L753.9,177.5 L766.7,177.5 Z M695,209.8 L688.6,221 L701.5,221 Z M656.9,234.6 L650.5,245.8 L663.3,245.8 Z M629.8,251.8 L623.4,262.9 L636.2,262.9 Z M608.8,265.2 L602.4,276.3 L615.2,276.3 Z M591.6,275.7 L585.2,286.9 L598.1,286.9 Z M577.1,284.3 L570.7,295.4 L583.6,295.4 Z M564.6,291.9 L558.1,303 L571,303 Z M553.5,298.1 L547.1,309.3 L559.9,309.3 Z M543.6,303.2 L537.1,314.3 L550,314.3 Z M534.6,307.8 L528.2,318.9 L541,318.9 Z M526.4,311.7 L520,322.8 L532.8,322.8 Z M518.9,315 L512.4,326.1 L525.3,326.1 Z M511.9,317.7 L505.5,328.8 L518.3,328.8 Z M505.4,320.4 L499,331.5 L511.8,331.5 Z M499.3,323 L492.9,334.2 L505.7,334.2 Z M434.1,347.2 L427.7,358.3 L440.5,358.3 Z M368.8,368.4 L362.4,379.5 L375.3,379.5 Z M301,388.4 L294.6,399.5 L307.4,399.5 Z M802.8,192.5 L796.4,203.6 L809.3,203.6 Z M737.6,236.3 L731.2,247.4 L744,247.4 Z M699.4,260.7 L693,271.8 L705.8,271.8 Z M672.3,277.5 L665.9,288.6 L678.8,288.6 Z M651.3,290.9 L644.9,302.1 L657.8,302.1 Z M634.2,301.5 L627.8,312.6 L640.6,312.6 Z M619.7,310 L613.3,321.2 L626.1,321.2 Z M607.1,317.6 L600.7,328.7 L613.5,328.7 Z M596,323.9 L589.6,335 L602.4,335 Z M586.1,328.9 L579.7,340 L592.5,340 Z M577.1,333.5 L570.7,344.6 L583.6,344.6 Z M568.9,337.4 L562.5,348.6 L575.4,348.6 Z M561.4,340.7 L555,351.9 L567.8,351.9 Z M554.4,343.4 L548,354.6 L560.9,354.6 Z M547.9,346.2 L541.5,357.3 L554.4,357.3 Z M541.9,348.8 L535.4,359.9 L548.3,359.9 Z M476.6,373.1 L470.2,384.2 L483,384.2 Z M411.4,394.2 L405,405.3 L417.8,405.3 Z M343.5,414 L337.1,425.1 L350,425.1 Z M835.8,212.6 L829.4,223.7 L842.3,223.7 Z M770.6,256.7 L764.2,267.8 L777,267.8 Z M732.4,280.8 L726,291.9 L738.9,291.9 Z M705.4,297.2 L698.9,308.3 L711.8,308.3 Z M684.3,310.6 L677.9,321.8 L690.8,321.8 Z M667.2,321.2 L660.8,332.3 L673.6,332.3 Z M652.7,329.7 L646.3,340.8 L659.1,340.8 Z M640.1,337.3 L633.7,348.4 L646.5,348.4 Z M629,343.6 L622.6,354.7 L635.4,354.7 Z M619.1,348.6 L612.7,359.7 L625.5,359.7 Z M610.1,353.2 L603.7,364.3 L616.6,364.3 Z M601.9,357.1 L595.5,368.3 L608.4,368.3 Z M594.4,360.5 L588,371.6 L600.8,371.6 Z M587.4,363.2 L581,374.3 L593.9,374.3 Z M580.9,365.9 L574.5,377 L587.4,377 Z M574.9,368.5 L568.4,379.7 L581.3,379.7 Z M509.6,392.9 L503.2,404 L516,404 Z M444.4,414 L438,425.1 L450.8,425.1 Z M376.5,433.5 L370.1,444.6 L383,444.6 Z M862.8,229.2 L856.4,240.3 L869.2,240.3 Z M797.6,273.5 L791.1,284.6 L804,284.6 Z M759.4,297.3 L753,308.4 L765.8,308.4 Z M732.3,313.5 L725.9,324.7 L738.7,324.7 Z M711.3,327 L704.9,338.1 L717.7,338.1 Z M694.2,337.5 L687.7,348.6 L700.6,348.6 Z M679.6,346.1 L673.2,357.2 L686.1,357.2 Z M667.1,353.6 L660.7,364.7 L673.5,364.7 Z M656,359.9 L649.6,371 L662.4,371 Z M646.1,364.9 L639.7,376.1 L652.5,376.1 Z M637.1,369.6 L630.7,380.7 L643.5,380.7 Z M628.9,373.5 L622.5,384.6 L635.3,384.6 Z M621.4,376.8 L615,387.9 L627.8,387.9 Z M614.4,379.5 L608,390.7 L620.8,390.7 Z M607.9,382.3 L601.5,393.4 L614.3,393.4 Z M601.8,384.9 L595.4,396 L608.3,396 Z M536.6,409.3 L530.2,420.4 L543,420.4 Z M471.4,430.4 L464.9,441.5 L477.8,441.5 Z M403.5,449.8 L397.1,460.9 L409.9,460.9 Z" fill="none" stroke="#800080" stroke-width="1.5" stroke-linejoin="round"/>
<path d="M597.8,31.4 L597.8,24.2 M597.8,31.4 L591,29.2 M597.8,31.4 L593.6,37.2 M597.8,31.4 L602,37.2 M597.8,31.4 L604.6,29.2 M532.6,71.3 L532.6,64.1 M532.6,71.3 L525.7,69.1 M532.6,71.3 L528.3,77.1 M532.6,71.3 L536.8,77.1 M532.6,71.3 L539.4,69.1 M494.4,100.4 L494.4,93.2 M494.4,100.4 L487.5,98.2 M494.4,100.4 L490.2,106.3 M494.4,100.4 L498.6,106.3 M494.4,100.4 L501.2,98.2 M467.3,118.5 L467.3,111.3 M467.3,118.5 L460.5,116.2 M467.3,118.5 L463.1,124.3 M467.3,118.5 L471.5,124.3 M467.3,118.5 L474.2,116.2 M446.3,131.8 L446.3,124.6 M446.3,131.8 L439.5,129.6 M446.3,131.8 L442.1,137.6 M446.3,131.8 L450.5,137.6 M446.3,131.8 L453.2,129.6 M429.2,142.7 L429.2,135.5 M429.2,142.7 L422.3,140.5 M429.2,142.7 L424.9,148.5 M429.2,142.7 L433.4,148.5 M429.2,142.7 L436,140.5 M414.6,151.8 L414.6,144.6 M414.6,151.8 L407.8,149.6 M414.6,151.8 L410.4,157.6 M414.6,151.8 L418.9,157.6 M414.6,151.8 L421.5,149.6 M402.1,159.7 L402.1,152.5 M402.1,159.7 L395.2,157.5 M402.1,159.7 L397.8,165.6 M402.1,159.7 L406.3,165.6 M402.1,159.7 L408.9,157.5 M391,165.9 L391,158.7 M391,165.9 L384.1,163.7 M391,165.9 L386.8,171.7 M391,165.9 L395.2,171.7 M391,165.9 L397.8,163.7 M381.1,170.8 L381.1,163.6 M381.1,170.8 L374.2,168.5 M381.1,170.8 L376.8,176.6 M381.1,170.8 L385.3,176.6 M381.1,170.8 L387.9,168.5 M372.1,175.3 L372.1,168.1 M372.1,175.3 L365.3,173 M372.1,175.3 L367.9,181.1 M372.1,175.3 L376.3,181.1 M372.1,175.3 L378.9,173 M363.9,179.1 L363.9,171.9 M363.9,179.1 L357.1,176.9 M363.9,179.1 L359.7,184.9 M363.9,179.1 L368.1,184.9 M363.9,179.1 L370.8,176.9 M356.4,182.6 L356.4,175.4 M356.4,182.6 L349.5,180.4 M356.4,182.6 L352.1,188.4 M356.4,182.6 L360.6,188.4 M356.4,182.6 L363.2,180.4 M349.4,185.5 L349.4,178.3 M349.4,185.5 L342.6,183.2 M349.4,185.5 L345.2,191.3 M349.4,185.5 L353.6,191.3 M349.4,185.5 L356.3,183.2 M342.9,188.3 L342.9,181.1 M342.9,188.3 L336.1,186.1 M342.9,188.3 L338.7,194.2 M342.9,188.3 L347.1,194.2 M342.9,188.3 L349.8,186.1 M336.8,191.1 L336.8,183.9 M336.8,191.1 L330,188.9 M336.8,191.1 L332.6,196.9 M336.8,191.1 L341.1,196.9 M336.8,191.1 L343.7,188.9 M271.6,215.6 L271.6,208.4 M271.6,215.6 L264.7,213.4 M271.6,215.6 L267.4,221.4 M271.6,215.6 L275.8,221.4 M271.6,215.6 L278.4,213.4 M206.4,236.8 L206.4,229.6 M206.4,236.8 L199.5,234.5 M206.4,236.8 L202.1,242.6 M206.4,236.8 L210.6,242.6 M206.4,236.8 L213.2,234.5 M138.5,256.1 L138.5,248.9 M138.5,256.1 L131.7,253.9 M138.5,256.1 L134.3,261.9 M138.5,256.1 L142.7,261.9 M138.5,256.1 L145.3,253.9 M700.3,95.9 L700.3,88.7 M700.3,95.9 L693.5,93.7 M700.3,95.9 L696.1,101.8 M700.3,95.9 L704.5,101.8 M700.3,95.9 L707.2,93.7 M635.1,136.2 L635.1,129 M635.1,136.2 L628.2,133.9 M635.1,136.2 L630.8,142 M635.1,136.2 L639.3,142 M635.1,136.2 L641.9,133.9 M596.9,164.9 L596.9,157.7 M596.9,164.9 L590.1,162.7 M596.9,164.9 L592.7,170.8 M596.9,164.9 L601.1,170.8 M596.9,164.9 L603.8,162.7 M569.8,183 L569.8,175.8 M569.8,183 L563,180.8 M569.8,183 L565.6,188.8 M569.8,183 L574.1,188.8 M569.8,183 L576.7,180.8 M548.8,196.3 L548.8,189.1 M548.8,196.3 L542,194.1 M548.8,196.3 L544.6,202.1 M548.8,196.3 L553.1,202.1 M548.8,196.3 L555.7,194.1 M531.7,207.3 L531.7,200.1 M531.7,207.3 L524.8,205 M531.7,207.3 L527.4,213.1 M531.7,207.3 L535.9,213.1 M531.7,207.3 L538.5,205 M517.2,216.3 L517.2,209.1 M517.2,216.3 L510.3,214.1 M517.2,216.3 L512.9,222.1 M517.2,216.3 L521.4,222.1 M517.2,216.3 L524,214.1 M504.6,224.3 L504.6,217.1 M504.6,224.3 L497.7,222.1 M504.6,224.3 L500.4,230.1 M504.6,224.3 L508.8,230.1 M504.6,224.3 L511.4,222.1 M493.5,230.4 L493.5,223.2 M493.5,230.4 L486.7,228.2 M493.5,230.4 L489.3,236.3 M493.5,230.4 L497.7,236.3 M493.5,230.4 L500.4,228.2 M483.6,235.3 L483.6,228.1 M483.6,235.3 L476.7,233.1 M483.6,235.3 L479.4,241.1 M483.6,235.3 L487.8,241.1 M483.6,235.3 L490.4,233.1 M474.6,239.8 L474.6,232.6 M474.6,239.8 L467.8,237.6 M474.6,239.8 L470.4,245.6 M474.6,239.8 L478.8,245.6 M474.6,239.8 L481.5,237.6 M466.4,243.7 L466.4,236.5 M466.4,243.7 L459.6,241.4 M466.4,243.7 L462.2,249.5 M466.4,243.7 L470.7,249.5 M466.4,243.7 L473.3,241.4 M458.9,247.2 L458.9,240 M458.9,247.2 L452,244.9 M458.9,247.2 L454.7,253 M458.9,247.2 L463.1,253 M458.9,247.2 L465.7,244.9 M451.9,250 L451.9,242.8 M451.9,250 L445.1,247.8 M451.9,250 L447.7,255.9 M451.9,250 L456.2,255.9 M451.9,250 L458.8,247.8 M445.4,252.9 L445.4,245.7 M445.4,252.9 L438.6,250.7 M445.4,252.9 L441.2,258.7 M445.4,252.9 L449.7,258.7 M445.4,252.9 L452.3,250.7 M439.4,255.7 L439.4,248.5 M439.4,255.7 L432.5,253.5 M439.4,255.7 L435.1,261.5 M439.4,255.7 L443.6,261.5 M439.4,255.7 L446.2,253.5 M374.1,280.2 L374.1,273 M374.1,280.2 L367.3,278 M374.1,280.2 L369.9,286 M374.1,280.2 L378.3,286 M374.1,280.2 L381,278 M308.9,301.8 L308.9,294.6 M308.9,301.8 L302,299.6 M308.9,301.8 L304.6,307.7 M308.9,301.8 L313.1,307.7 M308.9,301.8 L315.7,299.6 M241,321.1 L241,313.9 M241,321.1 L234.2,318.9 M241,321.1 L236.8,326.9 M241,321.1 L245.2,326.9 M241,321.1 L247.9,318.9 M760.3,133.5 L760.3,126.3 M760.3,133.5 L753.4,131.3 M760.3,133.5 L756.1,139.3 M760.3,133.5 L764.5,139.3 M760.3,133.5 L767.1,131.3 M695,174.1 L695,166.9 M695,174.1 L688.2,171.9 M695,174.1 L690.8,179.9 M695,174.1 L699.3,179.9 M695,174.1 L701.9,171.9 M656.9,202.5 L656.9,195.3 M656.9,202.5 L650,200.3 M656.9,202.5 L652.6,208.3 M656.9,202.5 L661.1,208.3 M656.9,202.5 L663.7,200.3 M629.8,220.5 L629.8,213.3 M629.8,220.5 L623,218.3 M629.8,220.5 L625.6,226.4 M629.8,220.5 L634,226.4 M629.8,220.5 L636.6,218.3 M608.8,233.9 L608.8,226.7 M608.8,233.9 L602,231.7 M608.8,233.9 L604.6,239.7 M608.8,233.9 L613,239.7 M608.8,233.9 L615.6,231.7 M591.6,244.8 L591.6,237.6 M591.6,244.8 L584.8,242.6 M591.6,244.8 L587.4,250.7 M591.6,244.8 L595.9,250.7 M591.6,244.8 L598.5,242.6 M577.1,253.9 L577.1,246.7 M577.1,253.9 L570.3,251.7 M577.1,253.9 L572.9,259.7 M577.1,253.9 L581.4,259.7 M577.1,253.9 L584,251.7 M564.6,261.9 L564.6,254.7 M564.6,261.9 L557.7,259.6 M564.6,261.9 L560.3,267.7 M564.6,261.9 L568.8,267.7 M564.6,261.9 L571.4,259.6 M553.5,268 L553.5,260.8 M553.5,268 L546.6,265.8 M553.5,268 L549.2,273.8 M553.5,268 L557.7,273.8 M553.5,268 L560.3,265.8 M543.6,272.9 L543.6,265.7 M543.6,272.9 L536.7,270.7 M543.6,272.9 L539.3,278.8 M543.6,272.9 L547.8,278.8 M543.6,272.9 L550.4,270.7 M534.6,277.4 L534.6,270.2 M534.6,277.4 L527.7,275.2 M534.6,277.4 L530.4,283.3 M534.6,277.4 L538.8,283.3 M534.6,277.4 L541.4,275.2 M526.4,281.3 L526.4,274.1 M526.4,281.3 L519.5,279 M526.4,281.3 L522.2,287.1 M526.4,281.3 L530.6,287.1 M526.4,281.3 L533.2,279 M518.9,284.8 L518.9,277.6 M518.9,284.8 L512,282.5 M518.9,284.8 L514.6,290.6 M518.9,284.8 L523.1,290.6 M518.9,284.8 L525.7,282.5 M511.9,287.6 L511.9,280.4 M511.9,287.6 L505,285.4 M511.9,287.6 L507.7,293.5 M511.9,287.6 L516.1,293.5 M511.9,287.6 L518.7,285.4 M505.4,290.5 L505.4,283.3 M505.4,290.5 L498.5,288.3 M505.4,290.5 L501.2,296.3 M505.4,290.5 L509.6,296.3 M505.4,290.5 L512.2,288.3 M499.3,293.3 L499.3,286.1 M499.3,293.3 L492.5,291.1 M499.3,293.3 L495.1,299.1 M499.3,293.3 L503.6,299.1 M499.3,293.3 L506.2,291.1 M434.1,317.8 L434.1,310.6 M434.1,317.8 L427.2,315.6 M434.1,317.8 L429.8,323.7 M434.1,317.8 L438.3,323.7 M434.1,317.8 L440.9,315.6 M368.8,337 L368.8,329.8 M368.8,337 L362,334.7 M368.8,337 L364.6,342.8 M368.8,337 L373.1,342.8 M368.8,337 L375.7,334.7 M301,359.2 L301,352 M301,359.2 L294.1,356.9 M301,359.2 L296.8,365 M301,359.2 L305.2,365 M301,359.2 L307.8,356.9 M802.8,160.1 L802.8,152.9 M802.8,160.1 L796,157.9 M802.8,160.1 L798.6,166 M802.8,160.1 L807.1,166 M802.8,160.1 L809.7,157.9 M737.6,201 L737.6,193.8 M737.6,201 L730.7,198.8 M737.6,201 L733.4,206.9 M737.6,201 L741.8,206.9 M737.6,201 L744.4,198.8 M699.4,229.1 L699.4,221.9 M699.4,229.1 L692.6,226.9 M699.4,229.1 L695.2,234.9 M699.4,229.1 L703.7,234.9 M699.4,229.1 L706.3,226.9 M672.3,247.2 L672.3,240 M672.3,247.2 L665.5,244.9 M672.3,247.2 L668.1,253 M672.3,247.2 L676.6,253 M672.3,247.2 L679.2,244.9 M651.3,260.5 L651.3,253.3 M651.3,260.5 L644.5,258.3 M651.3,260.5 L647.1,266.3 M651.3,260.5 L655.6,266.3 M651.3,260.5 L658.2,258.3 M634.2,271.5 L634.2,264.3 M634.2,271.5 L627.3,269.2 M634.2,271.5 L630,277.3 M634.2,271.5 L638.4,277.3 M634.2,271.5 L641,269.2 M619.7,280.5 L619.7,273.3 M619.7,280.5 L612.8,278.3 M619.7,280.5 L615.4,286.4 M619.7,280.5 L623.9,286.4 M619.7,280.5 L626.5,278.3 M607.1,288.5 L607.1,281.3 M607.1,288.5 L600.3,286.3 M607.1,288.5 L602.9,294.3 M607.1,288.5 L611.3,294.3 M607.1,288.5 L614,286.3 M596,294.7 L596,287.5 M596,294.7 L589.2,292.4 M596,294.7 L591.8,300.5 M596,294.7 L600.3,300.5 M596,294.7 L602.9,292.4 M586.1,299.6 L586.1,292.4 M586.1,299.6 L579.3,297.3 M586.1,299.6 L581.9,305.4 M586.1,299.6 L590.3,305.4 M586.1,299.6 L593,297.3 M577.1,304.1 L577.1,296.9 M577.1,304.1 L570.3,301.9 M577.1,304.1 L572.9,309.9 M577.1,304.1 L581.4,309.9 M577.1,304.1 L584,301.9 M568.9,307.9 L568.9,300.7 M568.9,307.9 L562.1,305.7 M568.9,307.9 L564.7,313.7 M568.9,307.9 L573.2,313.7 M568.9,307.9 L575.8,305.7 M561.4,311.4 L561.4,304.2 M561.4,311.4 L554.6,309.2 M561.4,311.4 L557.2,317.2 M561.4,311.4 L565.6,317.2 M561.4,311.4 L568.3,309.2 M554.4,314.3 L554.4,307.1 M554.4,314.3 L547.6,312.1 M554.4,314.3 L550.2,320.1 M554.4,314.3 L558.7,320.1 M554.4,314.3 L561.3,312.1 M547.9,317.2 L547.9,310 M547.9,317.2 L541.1,315 M547.9,317.2 L543.7,323 M547.9,317.2 L552.2,323 M547.9,317.2 L554.8,315 M541.9,320 L541.9,312.8 M541.9,320 L535,317.7 M541.9,320 L537.6,325.8 M541.9,320 L546.1,325.8 M541.9,320 L548.7,317.7 M476.6,344.5 L476.6,337.3 M476.6,344.5 L469.8,342.3 M476.6,344.5 L472.4,350.4 M476.6,344.5 L480.9,350.4 M476.6,344.5 L483.5,342.3 M411.4,362.8 L411.4,355.6 M411.4,362.8 L404.5,360.6 M411.4,362.8 L407.2,368.6 M411.4,362.8 L415.6,368.6 M411.4,362.8 L418.2,360.6 M343.5,386.2 L343.5,379 M343.5,386.2 L336.7,384 M343.5,386.2 L339.3,392 M343.5,386.2 L347.8,392 M343.5,386.2 L350.4,384 M835.8,180.7 L835.8,173.5 M835.8,180.7 L829,178.5 M835.8,180.7 L831.6,186.5 M835.8,180.7 L840.1,186.5 M835.8,180.7 L842.7,178.5 M770.6,221.9 L770.6,214.7 M770.6,221.9 L763.7,219.7 M770.6,221.9 L766.4,227.7 M770.6,221.9 L774.8,227.7 M770.6,221.9 L777.4,219.7 M732.4,249.7 L732.4,242.5 M732.4,249.7 L725.6,247.4 M732.4,249.7 L728.2,255.5 M732.4,249.7 L736.7,255.5 M732.4,249.7 L739.3,247.4 M705.4,267.7 L705.4,260.5 M705.4,267.7 L698.5,265.5 M705.4,267.7 L701.1,273.6 M705.4,267.7 L709.6,273.6 M705.4,267.7 L712.2,265.5 M684.3,281.1 L684.3,273.9 M684.3,281.1 L677.5,278.9 M684.3,281.1 L680.1,286.9 M684.3,281.1 L688.6,286.9 M684.3,281.1 L691.2,278.9 M667.2,292 L667.2,284.8 M667.2,292 L660.3,289.8 M667.2,292 L663,297.9 M667.2,292 L671.4,297.9 M667.2,292 L674,289.8 M652.7,301.1 L652.7,293.9 M652.7,301.1 L645.8,298.9 M652.7,301.1 L648.4,307 M652.7,301.1 L656.9,307 M652.7,301.1 L659.5,298.9 M640.1,309.1 L640.1,301.9 M640.1,309.1 L633.3,306.9 M640.1,309.1 L635.9,314.9 M640.1,309.1 L644.3,314.9 M640.1,309.1 L647,306.9 M629,315.3 L629,308.1 M629,315.3 L622.2,313 M629,315.3 L624.8,321.1 M629,315.3 L633.3,321.1 M629,315.3 L635.9,313 M619.1,320.2 L619.1,313 M619.1,320.2 L612.3,318 M619.1,320.2 L614.9,326 M619.1,320.2 L623.3,326 M619.1,320.2 L626,318 M610.1,324.7 L610.1,317.5 M610.1,324.7 L603.3,322.5 M610.1,324.7 L605.9,330.5 M610.1,324.7 L614.4,330.5 M610.1,324.7 L617,322.5 M601.9,328.5 L601.9,321.3 M601.9,328.5 L595.1,326.3 M601.9,328.5 L597.7,334.4 M601.9,328.5 L606.2,334.4 M601.9,328.5 L608.8,326.3 M594.4,332 L594.4,324.8 M594.4,332 L587.6,329.8 M594.4,332 L590.2,337.9 M594.4,332 L598.6,337.9 M594.4,332 L601.3,329.8 M587.4,334.9 L587.4,327.7 M587.4,334.9 L580.6,332.7 M587.4,334.9 L583.2,340.7 M587.4,334.9 L591.7,340.7 M587.4,334.9 L594.3,332.7 M580.9,337.8 L580.9,330.6 M580.9,337.8 L574.1,335.6 M580.9,337.8 L576.7,343.6 M580.9,337.8 L585.2,343.6 M580.9,337.8 L587.8,335.6 M574.9,340.6 L574.9,333.4 M574.9,340.6 L568,338.4 M574.9,340.6 L570.6,346.4 M574.9,340.6 L579.1,346.4 M574.9,340.6 L581.7,338.4 M509.6,365.2 L509.6,358 M509.6,365.2 L502.8,362.9 M509.6,365.2 L505.4,371 M509.6,365.2 L513.9,371 M509.6,365.2 L516.5,362.9 M444.4,382.6 L444.4,375.4 M444.4,382.6 L437.5,380.3 M444.4,382.6 L440.2,388.4 M444.4,382.6 L448.6,388.4 M444.4,382.6 L451.2,380.3 M376.5,404.6 L376.5,397.4 M376.5,404.6 L369.7,402.4 M376.5,404.6 L372.3,410.5 M376.5,404.6 L380.8,410.5 M376.5,404.6 L383.4,402.4 M862.8,197.6 L862.8,190.4 M862.8,197.6 L856,195.4 M862.8,197.6 L858.6,203.4 M862.8,197.6 L867,203.4 M862.8,197.6 L869.6,195.4 M797.6,239 L797.6,231.8 M797.6,239 L790.7,236.8 M797.6,239 L793.3,244.8 M797.6,239 L801.8,244.8 M797.6,239 L804.4,236.8 M759.4,266.5 L759.4,259.3 M759.4,266.5 L752.5,264.3 M759.4,266.5 L755.2,272.4 M759.4,266.5 L763.6,272.4 M759.4,266.5 L766.2,264.3 M732.3,284.6 L732.3,277.4 M732.3,284.6 L725.5,282.4 M732.3,284.6 L728.1,290.4 M732.3,284.6 L736.5,290.4 M732.3,284.6 L739.2,282.4 M711.3,298 L711.3,290.8 M711.3,298 L704.5,295.8 M711.3,298 L707.1,303.8 M711.3,298 L715.5,303.8 M711.3,298 L718.2,295.8 M694.2,308.9 L694.2,301.7 M694.2,308.9 L687.3,306.7 M694.2,308.9 L689.9,314.8 M694.2,308.9 L698.4,314.8 M694.2,308.9 L701,306.7 M679.6,318 L679.6,310.8 M679.6,318 L672.8,315.8 M679.6,318 L675.4,323.8 M679.6,318 L683.9,323.8 M679.6,318 L686.5,315.8 M667.1,326 L667.1,318.8 M667.1,326 L660.2,323.8 M667.1,326 L662.8,331.8 M667.1,326 L671.3,331.8 M667.1,326 L673.9,323.8 M656,332.2 L656,325 M656,332.2 L649.1,329.9 M656,332.2 L651.8,338 M656,332.2 L660.2,338 M656,332.2 L662.8,329.9 M646.1,337.1 L646.1,329.9 M646.1,337.1 L639.2,334.8 M646.1,337.1 L641.8,342.9 M646.1,337.1 L650.3,342.9 M646.1,337.1 L652.9,334.8 M637.1,341.6 L637.1,334.4 M637.1,341.6 L630.3,339.4 M637.1,341.6 L632.9,347.4 M637.1,341.6 L641.3,347.4 M637.1,341.6 L643.9,339.4 M628.9,345.4 L628.9,338.2 M628.9,345.4 L622.1,343.2 M628.9,345.4 L624.7,351.3 M628.9,345.4 L633.1,351.3 M628.9,345.4 L635.8,343.2 M621.4,348.9 L621.4,341.7 M621.4,348.9 L614.5,346.7 M621.4,348.9 L617.1,354.8 M621.4,348.9 L625.6,354.8 M621.4,348.9 L628.2,346.7 M614.4,351.8 L614.4,344.6 M614.4,351.8 L607.6,349.6 M614.4,351.8 L610.2,357.6 M614.4,351.8 L618.6,357.6 M614.4,351.8 L621.3,349.6 M607.9,354.7 L607.9,347.5 M607.9,354.7 L601.1,352.5 M607.9,354.7 L603.7,360.5 M607.9,354.7 L612.1,360.5 M607.9,354.7 L614.8,352.5 M601.8,357.5 L601.8,350.3 M601.8,357.5 L595,355.3 M601.8,357.5 L597.6,363.3 M601.8,357.5 L606.1,363.3 M601.8,357.5 L608.7,355.3 M536.6,382.1 L536.6,374.9 M536.6,382.1 L529.7,379.9 M536.6,382.1 L532.4,387.9 M536.6,382.1 L540.8,387.9 M536.6,382.1 L543.4,379.9 M471.4,399 L471.4,391.8 M471.4,399 L464.5,396.7 M471.4,399 L467.1,404.8 M471.4,399 L475.6,404.8 M471.4,399 L478.2,396.7 M403.5,424.3 L403.5,417.1 M403.5,424.3 L396.7,422.1 M403.5,424.3 L399.3,430.1 M403.5,424.3 L407.7,430.1 M403.5,424.3 L410.3,422.1" fill="none" stroke="#000000" stroke-width="1.5" stroke-linejoin="round"/>
<rect x="885.6" y="1.4" width="163.8" height="302.7" fill="#fff" stroke="#000" stroke-width="1.45"/>
<path d="M922.3,8.6 L941.1,25.2 L960,32.1 M909.4,20.6 L928.3,41.1 L947.1,54 M896.6,35.5 L915.4,54.9 L933.8,66.5 M922.3,8.6 L909.4,20.6 L896.6,35.5 M941.1,25.2 L928.3,41.1 L915.4,54.9 M960,32.1 L947.1,54 L933.8,66.5" fill="none" stroke="#ff0000" stroke-width="1.5" stroke-linejoin="round"/>
<path d="M922.3,66.3 L941.1,83 L960,89.8 M909.4,78.3 L928.3,98.8 L947.1,111.8 M896.6,93.2 L915.4,112.7 L933.8,124.2 M922.3,66.3 L909.4,78.3 L896.6,93.2 M941.1,83 L928.3,98.8 L915.4,112.7 M960,89.8 L947.1,111.8 L933.8,124.2" fill="none" stroke="#00ff00" stroke-width="1.5" stroke-linejoin="round"/>
<path d="M922.3,124.1 L941.1,140.7 L960,147.6 M909.4,136.1 L928.3,156.6 L947.1,169.5 M896.6,151 L915.4,170.4 L933.8,182 M922.3,124.1 L909.4,136.1 L896.6,151 M941.1,140.7 L928.3,156.6 L915.4,170.4 M960,147.6 L947.1,169.5 L933.8,182" fill="none" stroke="#0000ff" stroke-width="1.5" stroke-linejoin="round"/>
<path d="M922.3,181.8 L941.1,198.4 L960,205.3 M909.4,193.8 L928.3,214.3 L947.1,227.2 M896.6,208.8 L915.4,228.2 L933.8,239.8 M922.3,181.8 L909.4,193.8 L896.6,208.8 M941.1,198.4 L928.3,214.3 L915.4,228.2 M960,205.3 L947.1,227.2 L933.8,239.8" fill="none" stroke="#800080" stroke-width="1.5" stroke-linejoin="round"/>
<path d="M922.3,239.6 L941.1,256.2 L960,263.1 M909.4,251.6 L928.3,272.1 L947.1,285 M896.6,266.5 L915.4,285.9 L933.8,297.5 M922.3,239.6 L909.4,251.6 L896.6,266.5 M941.1,256.2 L928.3,272.1 L915.4,285.9 M960,263.1 L947.1,285 L933.8,297.5" fill="none" stroke="#000000" stroke-width="1.5" stroke-linejoin="round"/>
<g font-family="'Liberation Serif', serif" fill="#000">
<text transform="translate(974.2,47.4) scale(1.311,1)" font-size="18" style="letter-spacing:0.74px">2000</text>
<text transform="translate(974.6,104.9) scale(1.300,1)" font-size="18" style="letter-spacing:0.74px">4000</text>
<text transform="translate(974.3,162.5) scale(1.308,1)" font-size="18" style="letter-spacing:0.74px">8000</text>
<text transform="translate(967.5,220) scale(1.317,1)" font-size="18" style="letter-spacing:0.68px">16000</text>
<text transform="translate(967.5,277.5) scale(1.317,1)" font-size="18" style="letter-spacing:0.69px">32000</text>
<text transform="translate(40.9,118.8) scale(1.357,1)" font-size="18" style="letter-spacing:0.60px">100,000</text>
<text transform="translate(65.8,259.3) scale(1.388,1)" font-size="18" style="letter-spacing:0.61px">1,000</text>
<text transform="translate(100.4,402.2) scale(1.313,1)" font-size="18" style="letter-spacing:1.01px">10</text>
<text transform="translate(116,461.4) scale(1.270,1)" font-size="18" style="letter-spacing:0.00px">2</text>
<text transform="translate(218.8,526.1) scale(1.236,1)" font-size="18" style="letter-spacing:0.00px">4</text>
<text transform="translate(278.5,564.3) scale(1.240,1)" font-size="18" style="letter-spacing:0.00px">6</text>
<text transform="translate(321.2,590.5) scale(1.268,1)" font-size="18" style="letter-spacing:0.00px">8</text>
<text transform="translate(344.8,614.9) scale(1.331,1)" font-size="18" style="letter-spacing:1.01px">10</text>
<text transform="translate(372.4,632) scale(1.291,1)" font-size="18" style="letter-spacing:0.99px">12</text>
<text transform="translate(868.9,532.1) scale(1.166,1)" font-size="18" style="letter-spacing:0.00px">1</text>
<text transform="translate(645.4,579.3) scale(1.337,1)" font-size="18" style="letter-spacing:1.01px">10</text>
<text transform="translate(423.7,626.2) scale(1.238,1)" font-size="18" style="letter-spacing:0.79px">100</text>
<text transform="translate(145.6,613.6) scale(1.426,1)" font-size="18" style="letter-spacing:0.50px">F-set Size</text>
<text transform="translate(13.9,332.1) rotate(-90) scale(1.424,1)" font-size="18" style="letter-spacing:0.54px">Time in Seconds</text>
<text x="588.6" y="648.3" font-size="17.5" style="font-variant:small-caps" textLength="187.3" lengthAdjust="spacingAndGlyphs">Number of Threads</text>
</g>
</svg>
</body></html>
